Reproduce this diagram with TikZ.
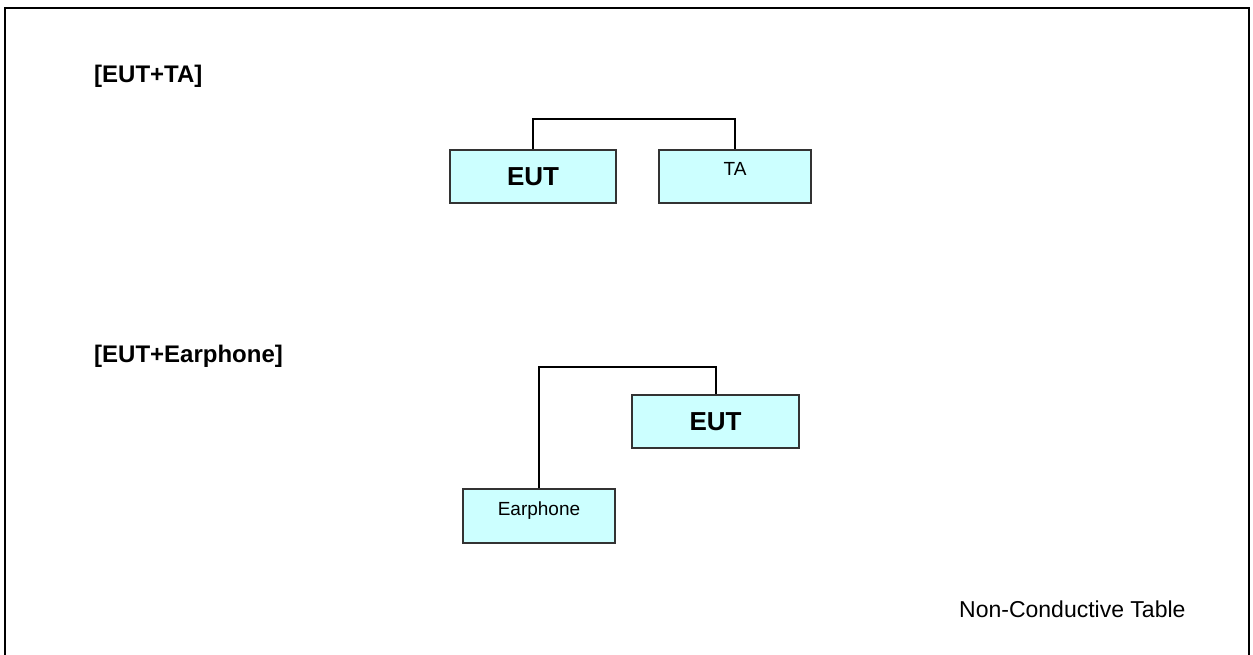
\documentclass[tikz,border=0pt]{standalone}
\usepackage{fontspec}
\setmainfont{Liberation Sans}
\definecolor{boxfill}{HTML}{CCFFFF}
\definecolor{boxline}{HTML}{333333}
\begin{document}
\begin{tikzpicture}[x=1pt,y=-1pt,
    frame/.style={line width=2pt, black},
    cable/.style={line width=2pt, black},
    unitbox/.style={draw=boxline, line width=1.3pt, fill=boxfill, inner sep=0pt,
      minimum height=53pt},
    heading/.style={anchor=base west, inner sep=0pt, font=\fontsize{24}{28}\selectfont\bfseries},
    eutlabel/.style={font=\fontsize{26}{30}\selectfont\bfseries},
    smalllabel/.style={font=\fontsize{19}{22}\selectfont, text height=13.6pt, text depth=15.5pt}]
  \useasboundingbox (0,0) rectangle (1253,655);
  % Table outline
  \draw[frame] (5,670) -- (5,8) -- (1249,8) -- (1249,670);
  % EUT with travel adapter
  \node[heading] (head1) at (94,83) {[EUT+TA]};
  \node[unitbox, eutlabel, minimum width=166pt] (eut1) at (533,176.5) {EUT};
  \node[unitbox, smalllabel, minimum width=152pt] (ta) at (735,176.5) {TA};
  \draw[cable] (eut1.north) -- ++(0,-30) -| (ta.north);
  % EUT with earphone
  \node[heading] (head2) at (94,362) {[EUT+Earphone]};
  \node[unitbox, eutlabel, minimum width=167pt] (eut2) at (715.5,421.5) {EUT};
  \node[unitbox, smalllabel, minimum width=152pt, minimum height=54pt] (earphone) at (539,516) {Earphone};
  \draw[cable] (earphone.north) -- ++(0,-121) -| (eut2.north);
  % Table label
  \node[anchor=base west, inner sep=0pt, font=\fontsize{23}{27}\selectfont] (table) at (959,617) {Non-Conductive Table};
\end{tikzpicture}
\end{document}
